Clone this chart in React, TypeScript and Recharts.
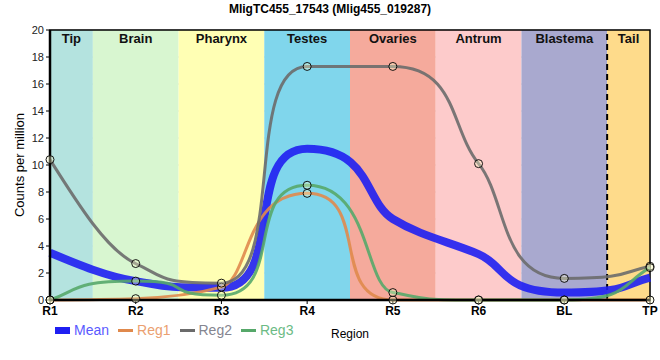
import {
  ComposedChart,
  Line,
  XAxis,
  YAxis,
  CartesianGrid,
  ReferenceArea,
  ReferenceLine,
} from "recharts";

const regions = ["R1", "R2", "R3", "R4", "R5", "R6", "BL", "TP"];
const meanValues = [3.5, 1.4, 0.9, 11.2, 6.0, 3.4, 0.55, 1.65];
const reg1Values = [0, 0.1, 0.95, 7.9, 0, 0, 0, 0];
const reg2Values = [10.4, 2.7, 1.25, 17.3, 17.3, 10.1, 1.6, 2.5];
const reg3Values = [0, 1.4, 0.35, 8.5, 0.55, 0, 0, 2.4];

const bandLabels = ["Tip", "Brain", "Pharynx", "Testes", "Ovaries", "Antrum", "Blastema", "Tail"];
const bandStarts = [0, 0.5, 1.5, 2.5, 3.5, 4.5, 5.5, 6.5];
const bandEnds = [0.5, 1.5, 2.5, 3.5, 4.5, 5.5, 6.5, 7];
const bandColors = ["#b4e3df", "#d8f6d0", "#ffffb4", "#80d6ec", "#f5aa9c", "#fdcbcb", "#a9a9cf", "#fedb8b"];

const yTicks = [0, 2, 4, 6, 8, 10, 12, 14, 16, 18, 20];
const xTicks = regions.map((_, i) => i);

const data = regions.map((r, i) => ({
  x: i,
  region: r,
  mean: meanValues[i],
  reg1: reg1Values[i],
  reg2: reg2Values[i],
  reg3: reg3Values[i],
}));

const series = [
  { key: "mean", name: "Mean", color: "#1f1ff2", text: "#5a5aff", width: 8 },
  { key: "reg1", name: "Reg1", color: "#e0894c", text: "#eba070", width: 3 },
  { key: "reg2", name: "Reg2", color: "#6b6b6b", text: "#858590", width: 3 },
  { key: "reg3", name: "Reg3", color: "#56a86a", text: "#6cbb85", width: 3 },
];

const font = "'Liberation Sans', Arial, sans-serif";

const dot = { r: 4, stroke: "#000", strokeWidth: 1, fill: "#ffffcc", fillOpacity: 0.35 };

// monotone-x tangents, but flat ends get longer handles so the curve
// hugs the plateau and switches sharply between regions
const FLAT_HANDLE = 0.75;
function plateauCurve(context: any) {
  let xs: number[] = [];
  let ys: number[] = [];
  return {
    areaStart() {},
    areaEnd() {},
    lineStart() {
      xs = [];
      ys = [];
    },
    point(x: number, y: number) {
      xs.push(+x);
      ys.push(+y);
    },
    lineEnd() {
      const n = xs.length;
      if (!n) return;
      context.moveTo(xs[0], ys[0]);
      if (n === 1) return;
      const s: number[] = [];
      for (let i = 0; i < n - 1; i++) s.push((ys[i + 1] - ys[i]) / (xs[i + 1] - xs[i]));
      const m: number[] = new Array(n).fill(0);
      for (let i = 1; i < n - 1; i++) {
        const h0 = xs[i] - xs[i - 1];
        const h1 = xs[i + 1] - xs[i];
        const p = (s[i - 1] * h1 + s[i] * h0) / (h0 + h1);
        m[i] = (Math.sign(s[i - 1]) + Math.sign(s[i])) * Math.min(Math.abs(s[i - 1]), Math.abs(s[i]), 0.5 * Math.abs(p)) || 0;
      }
      m[0] = n > 2 ? (3 * s[0] - m[1]) / 2 : s[0];
      m[n - 1] = n > 2 ? (3 * s[n - 2] - m[n - 2]) / 2 : s[n - 2];
      if (Math.sign(m[0]) !== Math.sign(s[0])) m[0] = 0;
      if (Math.sign(m[n - 1]) !== Math.sign(s[n - 2])) m[n - 1] = 0;
      for (let i = 0; i < n - 1; i++) {
        const dx = xs[i + 1] - xs[i];
        const a0 = Math.abs(m[i]) < 1e-9 ? FLAT_HANDLE : 1 / 3;
        const a1 = Math.abs(m[i + 1]) < 1e-9 ? FLAT_HANDLE : 1 / 3;
        context.bezierCurveTo(
          xs[i] + a0 * dx,
          ys[i] + a0 * dx * m[i],
          xs[i + 1] - a1 * dx,
          ys[i + 1] - a1 * dx * m[i + 1],
          xs[i + 1],
          ys[i + 1]
        );
      }
    },
  };
}

export default function App() {
  return (
    <div style={{ position: "absolute", left: 0, top: 0, width: 660, height: 360, background: "#fff", fontFamily: font }}>
      <div
        style={{
          position: "absolute",
          top: 2,
          left: 0,
          width: 660,
          textAlign: "center",
          fontSize: 12,
          fontWeight: "bold",
        }}
      >
        MligTC455_17543 (Mlig455_019287)
      </div>
      <ComposedChart
        width={660}
        height={360}
        data={data}
        margin={{ top: 30, right: 10, bottom: 20, left: 0 }}
        style={{ fontFamily: font }}
      >
        {bandLabels.map((b, i) => (
          <ReferenceArea
            key={b}
            x1={bandStarts[i]}
            x2={bandEnds[i]}
            y1={0}
            y2={20}
            fill={bandColors[i]}
            fillOpacity={1}
            stroke="none"
            ifOverflow="hidden"
            label={{ value: b, position: "insideTop", offset: 4, fontSize: 13, fontWeight: "bold", fill: "#111" }}
          />
        ))}
        <CartesianGrid stroke="#cccccc" strokeWidth={1} />
        <ReferenceLine x={6.5} stroke="#000" strokeWidth={2} strokeDasharray="6 4" />
        <XAxis
          dataKey="x"
          type="number"
          domain={[0, 7]}
          ticks={xTicks}
          tickFormatter={(v) => regions[v]}
          tick={{ fontSize: 12, fontWeight: "bold", fill: "#000" }}
          tickSize={4}
          axisLine={{ stroke: "#000", strokeWidth: 2.5 }}
          tickLine={{ stroke: "#000" }}
          height={40}
          label={{ value: "Region", position: "insideBottom", offset: 2, fontSize: 12, fill: "#000" }}
        />
        <YAxis
          domain={[0, 20]}
          ticks={yTicks}
          width={50}
          tick={{ fontSize: 11, fill: "#222" }}
          tickSize={4}
          axisLine={{ stroke: "#000", strokeWidth: 2.5 }}
          tickLine={{ stroke: "#000" }}
          label={{ value: "Counts per million", angle: -90, position: "insideLeft", offset: 19, fontSize: 13, fill: "#000", style: { textAnchor: "middle" } }}
        />
        {series.map((s) => (
          <Line
            key={s.key}
            type={plateauCurve as any}
            dataKey={s.key}
            name={s.name}
            stroke={s.color}
            strokeWidth={s.width}
            strokeOpacity={0.9}
            dot={s.key === "mean" ? false : dot}
            activeDot={false}
            isAnimationActive={false}
          />
        ))}
        <ReferenceArea x1={0} x2={7} y1={0} y2={20} fill="none" stroke="#000" strokeWidth={1.5} />
      </ComposedChart>
      <div
        style={{
          position: "absolute",
          left: 55,
          top: 322,
          display: "flex",
          alignItems: "center",
          fontSize: 14,
        }}
      >
        {series.map((s) => (
          <div key={s.key} style={{ display: "flex", alignItems: "center", marginRight: 9 }}>
            <div
              style={{
                width: 15,
                height: s.key === "mean" ? 7 : 3,
                background: s.color,
                marginRight: 4,
              }}
            />
            <span style={{ color: s.text }}>{s.name}</span>
          </div>
        ))}
      </div>
    </div>
  );
}
